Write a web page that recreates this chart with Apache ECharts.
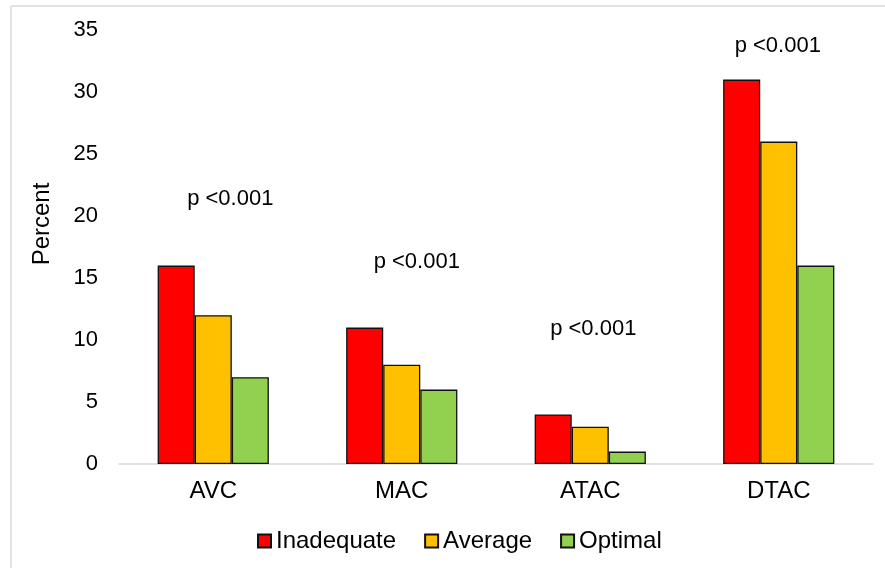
<!DOCTYPE html>
<html>
<head>
<meta charset="utf-8">
<script src="https://cdn.jsdelivr.net/npm/echarts@6/dist/echarts.min.js"></script>
<style>html,body{margin:0;padding:0;background:#fff;}#c{width:885px;height:568px;}</style>
</head>
<body>
<div id="c"></div>
<script>
var categories = ['AVC', 'MAC', 'ATAC', 'DTAC'];
var inadequate = [16, 11, 4, 31];
var average = [12, 8, 3, 26];
var optimal = [7, 6, 1, 16];
var pLabels = ['p <0.001', 'p <0.001', 'p <0.001', 'p <0.001'];
var pLabelY = [21.4, 16.3, 10.9, 33.7];
var yTicks = [0, 5, 10, 15, 20, 25, 30, 35];

var font = 'Liberation Sans, Arial, sans-serif';
var chart = echarts.init(document.getElementById('c'));
var pOffsets = [[17, 0], [15, 0], [3, 0], [-1, 0]];
chart.setOption({
  animation: false,
  backgroundColor: '#fff',
  graphic: [
    {type: 'line', shape: {x1: 11, y1: 6, x2: 11, y2: 568}, style: {stroke: '#e3e3e3', lineWidth: 2}},
    {type: 'line', shape: {x1: 11, y1: 6, x2: 885, y2: 6}, style: {stroke: '#e3e3e3', lineWidth: 2}}
  ],
  grid: {left: 119, right: 12, top: 30, bottom: 104, containLabel: false},
  legend: {
    top: 524,
    left: 252,
    itemWidth: 13,
    itemHeight: 13,
    itemGap: 28,
    icon: 'rect',
    textStyle: {fontFamily: font, fontSize: 24, color: '#000'},
    data: ['Inadequate', 'Average', 'Optimal']
  },
  xAxis: {
    type: 'category',
    data: categories,
    axisLine: {show: true, lineStyle: {color: '#d9d9d9', width: 1.5}},
    axisTick: {show: false},
    axisLabel: {fontFamily: font, fontSize: 24, color: '#000', margin: 15}
  },
  yAxis: {
    type: 'value',
    min: 0, max: 35, interval: 5,
    name: 'Percent',
    nameLocation: 'middle',
    nameGap: 65,
    nameTextStyle: {fontFamily: font, fontSize: 24, color: '#000', padding: [0, 0, 0, 46]},
    axisLine: {show: false},
    axisTick: {show: false},
    splitLine: {show: false},
    axisLabel: {fontFamily: font, fontSize: 22, color: '#000', margin: 21,
      formatter: function (v) { return yTicks.indexOf(v) >= 0 ? String(v) : ''; }}
  },
  series: [
    {name: 'Inadequate', type: 'bar', data: inadequate, barGap: '0%', barCategoryGap: '41%',
      itemStyle: {color: '#ff0000', borderColor: '#111', borderWidth: 1.3}},
    {name: 'Average', type: 'bar', data: average, barGap: '0%', barCategoryGap: '41%',
      itemStyle: {color: '#ffc000', borderColor: '#111', borderWidth: 1.3}},
    {name: 'Optimal', type: 'bar', data: optimal, barGap: '0%', barCategoryGap: '41%',
      itemStyle: {color: '#92d050', borderColor: '#111', borderWidth: 1.3}},
    {name: 'p', type: 'scatter', symbolSize: 0, silent: true, z: 10,
      itemStyle: {color: '#000', opacity: 1},
      data: categories.map(function (c, i) {
        return {value: [c, pLabelY[i]], label: {offset: pOffsets[i]}};
      }),
      label: {show: true, position: 'inside', fontFamily: font, fontSize: 22, color: '#000',
        opacity: 1, textBorderWidth: 0, textBorderColor: 'transparent',
        formatter: function (p) { return pLabels[p.dataIndex]; }}
    }
  ]
});
</script>
</body>
</html>
